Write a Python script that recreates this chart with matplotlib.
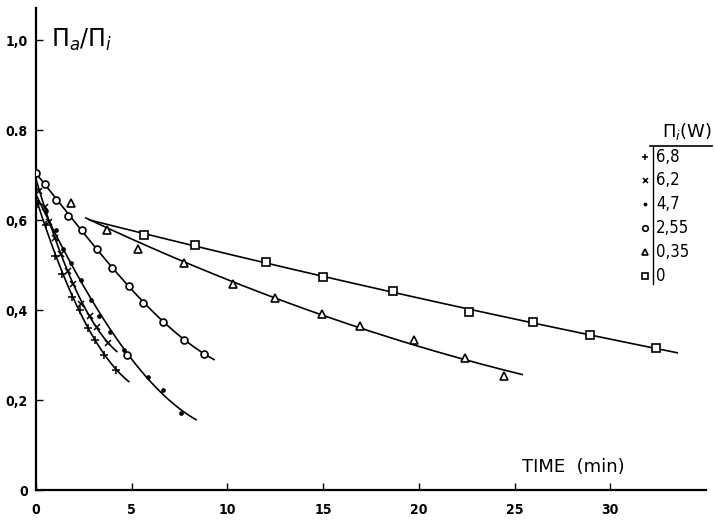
import numpy as np
import matplotlib
matplotlib.use("Agg")
import matplotlib.pyplot as plt

# ---- data ----
t_68 = [0.10, 0.50, 1.00, 1.35, 1.90, 2.30, 2.74, 3.10, 3.57, 4.18]
v_68 = [0.635, 0.590, 0.520, 0.480, 0.430, 0.400, 0.360, 0.334, 0.300, 0.267]
r_68 = [0.0, 4.85]

t_62 = [0.17, 0.45, 0.70, 1.00, 1.29, 1.66, 1.95, 2.37, 2.80, 3.21, 3.74]
v_62 = [0.665, 0.630, 0.595, 0.560, 0.525, 0.487, 0.457, 0.414, 0.387, 0.363, 0.326]
r_62 = [0.0, 4.22]

t_47 = [0.05, 0.52, 1.05, 1.39, 1.81, 2.35, 2.88, 3.31, 3.87, 4.60, 5.87, 6.62, 7.56]
v_47 = [0.640, 0.620, 0.578, 0.535, 0.505, 0.467, 0.422, 0.387, 0.352, 0.312, 0.251, 0.222, 0.172]
r_47 = [0.0, 8.36]

t_255 = [0.0, 0.47, 1.05, 1.69, 2.40, 3.21, 3.99, 4.88, 5.61, 6.66, 7.75, 8.80]
v_255 = [0.705, 0.680, 0.645, 0.610, 0.578, 0.535, 0.494, 0.453, 0.415, 0.374, 0.333, 0.303]
r_255 = [0.0, 9.3]

t_035 = [1.81, 3.73, 5.35, 7.75, 10.28, 12.48, 14.95, 16.95, 19.76, 22.43, 24.45]
v_035 = [0.637, 0.578, 0.535, 0.505, 0.458, 0.426, 0.392, 0.365, 0.333, 0.294, 0.254]
r_035 = [2.6, 25.4]

t_0 = [5.66, 8.28, 12.02, 14.97, 18.64, 22.63, 25.96, 28.92, 32.41]
v_0 = [0.567, 0.545, 0.506, 0.474, 0.442, 0.396, 0.374, 0.344, 0.315]
r_0 = [2.8, 33.5]

stray_t = [4.77]
stray_v = [0.300]

legend_labels = ["6,8", "6,2", "4,7", "2,55", "0,35", "0"]
x_ticks = [0, 5, 10, 15, 20, 25, 30]
y_ticks = [0, 0.2, 0.4, 0.6, 0.8, 1.0]
y_ticklabels = ["0", "0,2", "0,4", "0,6", "0.8", "1,0"]

series = [
    (t_68, v_68, r_68, dict(marker="+", ms=6, mew=1.1, mfc="black"), 2),
    (t_62, v_62, r_62, dict(marker="x", ms=4.5, mew=1.1, mfc="black"), 2),
    (t_47, v_47, r_47, dict(marker="o", ms=2.8, mew=0.5, mfc="black"), 3),
    (t_255, v_255, r_255, dict(marker="o", ms=5, mew=1.2, mfc="white"), 3),
    (t_035, v_035, r_035, dict(marker="^", ms=5.5, mew=1.2, mfc="white"), 2),
    (t_0, v_0, r_0, dict(marker="s", ms=5.5, mew=1.2, mfc="white"), 2),
]

fig = plt.figure(figsize=(7.15, 5.23), dpi=100)
ax = fig.add_axes([36 / 715, 33 / 523, (706 - 36) / 715, (490 - 8) / 523])

for t, v, rng, mk, deg in series:
    coef = np.polyfit(t, v, deg)
    tt = np.linspace(rng[0], rng[1], 200)
    ax.plot(tt, np.polyval(coef, tt), color="black", lw=1.2, zorder=2)
    ax.plot(t, v, linestyle="none", color="black", mec="black", zorder=3, **mk)

ax.plot(stray_t, stray_v, linestyle="none", marker="o", ms=5, mew=1.2,
        mfc="white", mec="black", zorder=3)

ax.set_xlim(0, 35)
ax.set_ylim(0, (490 - 8) / 450)
for s in ["top", "right"]:
    ax.spines[s].set_visible(False)
ax.spines["left"].set_linewidth(1.6)
ax.spines["bottom"].set_linewidth(1.6)

tick_font = dict(fontsize=10, fontweight="bold", fontstretch="condensed")
ax.set_xticks(x_ticks)
ax.set_xticklabels([str(x) for x in x_ticks], **tick_font)
ax.set_yticks(y_ticks)
ax.set_yticklabels(y_ticklabels, **tick_font)
ax.tick_params(axis="both", direction="in", length=5, width=1.0)
ax.tick_params(axis="x", pad=9)
ax.tick_params(axis="y", pad=6)

ax.text(0.8, 1.0, r"$\Pi_a/\Pi_i$", fontsize=17, va="center", ha="left")
ax.text(25.4, 0.03, "TIME  (min)", fontsize=13, va="bottom", ha="left")

# legend table drawn in figure pixels
def fy(py):
    return 1 - py / 523

def fx(px):
    return px / 715

fig.text(fx(662), fy(132), r"$\Pi_i$(W)", fontsize=13, va="center", ha="left")
fig.add_artist(plt.Line2D([fx(650), fx(712)], [fy(146), fy(146)], color="black", lw=1.2))
fig.add_artist(plt.Line2D([fx(653), fx(653)], [fy(146), fy(284)], color="black", lw=1.0))
row_y = [157, 180, 204, 228, 252, 276]
for (t, v, rng, mk, deg), lab, py in zip(series, legend_labels, row_y):
    fig.add_artist(plt.Line2D([fx(645)], [fy(py)], linestyle="none", color="black",
                              mec="black", **{**mk, "ms": mk["ms"] * 0.8}))
    fig.text(fx(656), fy(py), lab, fontsize=12, va="center", ha="left",
             fontstretch="condensed")

fig.savefig("out.png", dpi=100)
